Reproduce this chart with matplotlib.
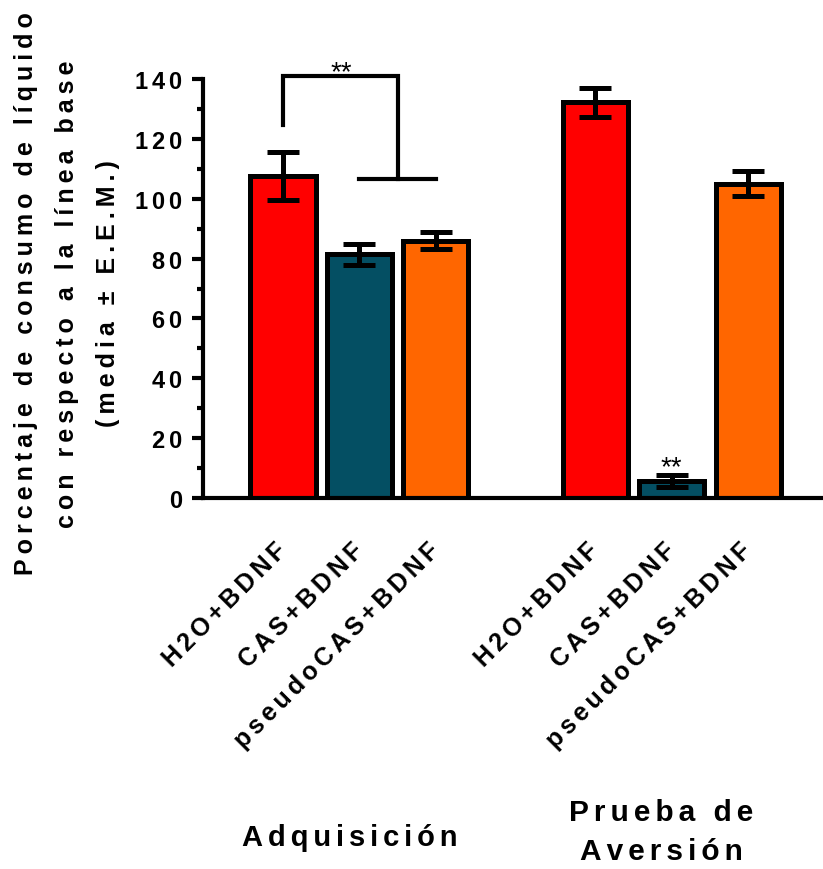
import numpy as np
import matplotlib.pyplot as plt
from matplotlib.ticker import MultipleLocator, FuncFormatter

plt.rcParams['font.family'] = ['Liberation Sans', 'DejaVu Sans']
plt.rcParams['font.weight'] = 'bold'

# Datos (media y error estandar)
etiquetas = ['H2O+BDNF', 'CAS+BDNF', 'pseudoCAS+BDNF',
             'H2O+BDNF', 'CAS+BDNF', 'pseudoCAS+BDNF']
medias = [107.5, 81.5, 86.0, 132.2, 5.8, 105.0]
eem = [8.0, 3.5, 2.9, 4.9, 2.0, 4.2]
colores = ['#FF0000', '#044F63', '#FF6600', '#FF0000', '#044F63', '#FF6600']
grupos = ['Adquisición', 'Prueba de\nAversión']
ylabel = ['Porcentaje de consumo de líquido',
          'con respecto a la línea base',
          '(media ± E.E.M.)']

posiciones = [0, 1, 2, 4.08, 5.08, 6.08]

# espaciado entre letras, como en el original
def espaciar(s, sep='\u2006'):
    return '\n'.join(sep.join(linea) for linea in s.split('\n'))

fig = plt.figure(figsize=(8.23, 8.70), dpi=100)
ax = fig.add_axes([203/823, 1 - 499/870, 620/823, 419/870])

ax.bar(posiciones, medias, width=0.85, color=colores, edgecolor='black',
       linewidth=3.6, zorder=2)
ax.errorbar(posiciones, medias, yerr=eem, fmt='none', ecolor='black',
            elinewidth=3.6, capsize=11.5, capthick=3.6, zorder=3)

ax.set_xlim(-1.046, 7.06)
ax.set_ylim(0, 140)
ax.yaxis.set_major_locator(MultipleLocator(20))
ax.yaxis.set_minor_locator(MultipleLocator(10))
ax.yaxis.set_major_formatter(FuncFormatter(lambda v, p: espaciar('%d' % v)))
for s in ['top', 'right']:
    ax.spines[s].set_visible(False)
for s in ['left', 'bottom']:
    ax.spines[s].set_linewidth(3)
ax.tick_params(axis='y', which='major', length=8, width=3, labelsize=17, pad=7)
ax.tick_params(axis='y', which='minor', length=4.5, width=3)

ax.set_xticks(posiciones)
ax.set_xticklabels([espaciar(e) for e in etiquetas], rotation=45, ha='right',
                   va='center', rotation_mode='anchor', fontsize=18)
ax.tick_params(axis='x', length=0, pad=35)

# corchete de significancia
ax.plot([0, 0, 1.5, 1.5], [124.5, 141, 141, 106.5], color='black', lw=3,
        clip_on=False, solid_joinstyle='miter', zorder=4)
ax.plot([1, 2], [106.5, 106.5], color='black', lw=3, clip_on=False, zorder=4)
ax.text(0.76, 142.3, '**', ha='center', va='center', fontsize=20,
        fontweight='normal')
ax.text(5.08, 10.3, '**', ha='center', va='center', fontsize=20,
        fontweight='normal')

for i, linea in enumerate(ylabel):
    fig.text((26 + 41*i)/823, 1 - 294/870, espaciar(linea, '\u2009'),
             rotation=90, ha='center', va='center', fontsize=18)

fig.text(350/823, 1 - 838/870, espaciar(grupos[0]), ha='center', va='center',
         fontsize=21)
fig.text(661/823, 1 - 833/870, espaciar(grupos[1]), ha='center', va='center',
         fontsize=21.5, linespacing=1.5)

fig.savefig('out.png', dpi=100)
